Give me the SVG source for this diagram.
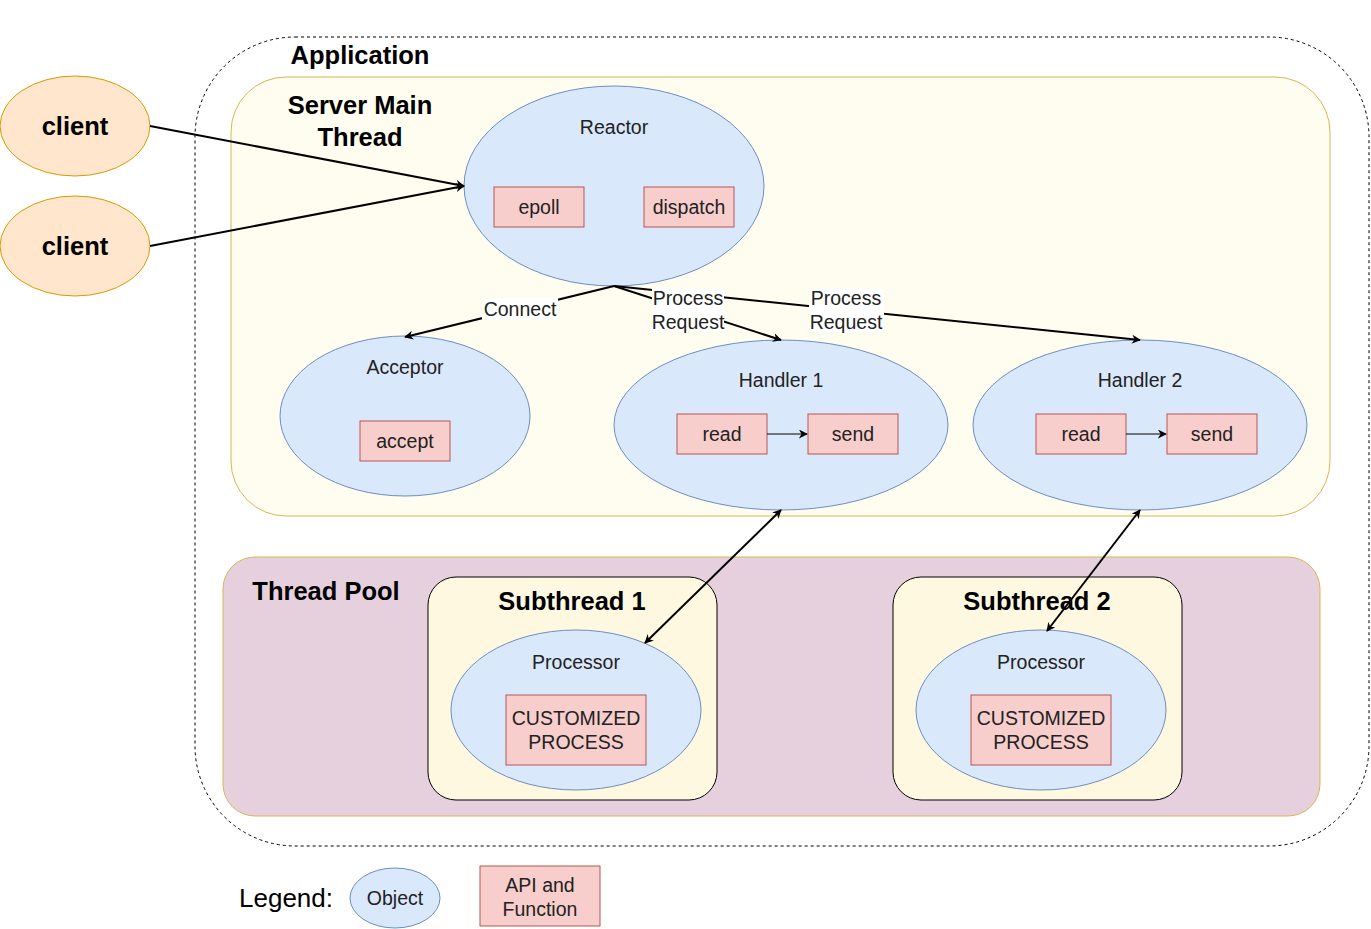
<svg xmlns="http://www.w3.org/2000/svg" width="1371" height="929" viewBox="0 0 1371 929">
<defs>
<marker id="arr" viewBox="0 0 10 10" refX="9" refY="5" markerWidth="9" markerHeight="9" orient="auto-start-reverse" markerUnits="userSpaceOnUse">
<path d="M0,0 L10,5 L0,10 L3,5 z" fill="#000"/>
</marker>
<marker id="arrs" viewBox="0 0 10 10" refX="9" refY="5" markerWidth="9" markerHeight="9" orient="auto" markerUnits="userSpaceOnUse">
<path d="M0,0 L10,5 L0,10 L3,5 z" fill="#000"/>
</marker>
<style>
text{font-family:"Liberation Sans",Arial,sans-serif;fill:#000;text-anchor:middle}
.b{font-weight:bold;font-size:25.5px}
.n{font-size:19.5px;fill:#222}
.obj{fill:#dae8fc;stroke:#6c8ebf;stroke-width:1}
.api{fill:#f8cecc;stroke:#b85450;stroke-width:1}
.cl{fill:#ffe6cc;stroke:#d79b00;stroke-width:1}
.e{fill:none;stroke:#000;stroke-width:2}
.lbl{fill:#fff}
</style>
</defs>
<g id="application">
<rect x="195" y="37" width="1174" height="809" rx="100" ry="100" fill="#fff" stroke="#000" stroke-width="1" stroke-dasharray="3,3"/>
<text class="b" x="360" y="64">Application</text>
</g>
<g id="server-main-thread">
<rect x="231" y="77" width="1099" height="439" rx="55" ry="55" fill="#fffdef" stroke="#d6b656" stroke-width="1"/>
<text class="b" x="360" y="114">Server Main</text>
<text class="b" x="360" y="146">Thread</text>
</g>
<g id="thread-pool">
<rect x="223" y="557" width="1097" height="259" rx="32" ry="32" fill="#e6d0de" stroke="#d6b656" stroke-width="1"/>
<text class="b" x="326" y="600">Thread Pool</text>
</g>
<g id="subthread-1">
<rect x="428" y="577" width="289" height="223" rx="28" ry="28" fill="#fff8e1" stroke="#000" stroke-width="1"/>
<text class="b" x="572" y="610">Subthread 1</text>
</g>
<g id="subthread-2">
<rect x="893" y="577" width="289" height="223" rx="28" ry="28" fill="#fff8e1" stroke="#000" stroke-width="1"/>
<text class="b" x="1037" y="610">Subthread 2</text>
</g>
<g id="client-1">
<ellipse class="cl" cx="75" cy="126" rx="75" ry="50"/>
<text class="b" x="75" y="135">client</text>
</g>
<g id="client-2">
<ellipse class="cl" cx="75" cy="246" rx="75" ry="50"/>
<text class="b" x="75" y="255">client</text>
</g>
<g id="reactor">
<ellipse class="obj" cx="614" cy="186" rx="150" ry="100"/>
<text class="n" x="614" y="134">Reactor</text>
<rect class="api" x="494" y="187" width="90" height="40"/>
<text class="n" x="539" y="214">epoll</text>
<rect class="api" x="644" y="187" width="90" height="40"/>
<text class="n" x="689" y="214">dispatch</text>
</g>
<g id="acceptor">
<ellipse class="obj" cx="405" cy="416" rx="125" ry="80"/>
<text class="n" x="405" y="374">Acceptor</text>
<rect class="api" x="360" y="421" width="90" height="40"/>
<text class="n" x="405" y="448">accept</text>
</g>
<g id="handler-1">
<ellipse class="obj" cx="781" cy="425" rx="167" ry="85"/>
<text class="n" x="781" y="387">Handler 1</text>
<rect class="api" x="677" y="414" width="90" height="40"/>
<text class="n" x="722" y="441">read</text>
<rect class="api" x="808" y="414" width="90" height="40"/>
<text class="n" x="853" y="441">send</text>
</g>
<g id="handler-2">
<ellipse class="obj" cx="1140" cy="425" rx="167" ry="85"/>
<text class="n" x="1140" y="387">Handler 2</text>
<rect class="api" x="1036" y="414" width="90" height="40"/>
<text class="n" x="1081" y="441">read</text>
<rect class="api" x="1167" y="414" width="90" height="40"/>
<text class="n" x="1212" y="441">send</text>
</g>
<g id="processor-1">
<ellipse class="obj" cx="576" cy="710" rx="125" ry="80"/>
<text class="n" x="576" y="669">Processor</text>
<rect class="api" x="506" y="695" width="140" height="70"/>
<text class="n" x="576" y="725">CUSTOMIZED</text>
<text class="n" x="576" y="749">PROCESS</text>
</g>
<g id="processor-2">
<ellipse class="obj" cx="1041" cy="710" rx="125" ry="80"/>
<text class="n" x="1041" y="669">Processor</text>
<rect class="api" x="971" y="695" width="140" height="70"/>
<text class="n" x="1041" y="725">CUSTOMIZED</text>
<text class="n" x="1041" y="749">PROCESS</text>
</g>
<g id="connectors">
<path class="e" d="M150,126 L464,186" marker-end="url(#arrs)"/>
<path class="e" d="M150,246 L464,186" marker-end="url(#arrs)"/>
<path class="e" d="M614,286 L405,337" marker-end="url(#arrs)"/>
<path class="e" d="M614,286 L781,340" marker-end="url(#arrs)"/>
<path class="e" d="M614,286 L1140,340" marker-end="url(#arrs)"/>
<path class="e" d="M781,510 L645,643" marker-start="url(#arr)" marker-end="url(#arr)"/>
<path class="e" d="M1140,510 L1047,631" marker-start="url(#arr)" marker-end="url(#arr)"/>
<path d="M767,434 L807,434" stroke="#000" stroke-width="1" fill="none" marker-end="url(#arrs)"/>
<path d="M1126,434 L1166,434" stroke="#000" stroke-width="1" fill="none" marker-end="url(#arrs)"/>
<rect class="lbl" x="482" y="298" width="76" height="22"/>
<text class="n" x="520" y="316">Connect</text>
<rect class="lbl" x="652" y="288" width="72" height="44"/>
<text class="n" x="688" y="305">Process</text>
<text class="n" x="688" y="329">Request</text>
<rect class="lbl" x="809" y="288" width="75" height="44"/>
<text class="n" x="846" y="305">Process</text>
<text class="n" x="846" y="329">Request</text>
</g>
<g id="legend">
<text x="286" y="907" style="font-size:26px">Legend:</text>
<ellipse class="obj" cx="395" cy="898" rx="45" ry="30"/>
<text class="n" x="395" y="905">Object</text>
<rect class="api" x="480" y="866" width="120" height="60"/>
<text class="n" x="540" y="892">API and</text>
<text class="n" x="540" y="916">Function</text>
</g>
</svg>
